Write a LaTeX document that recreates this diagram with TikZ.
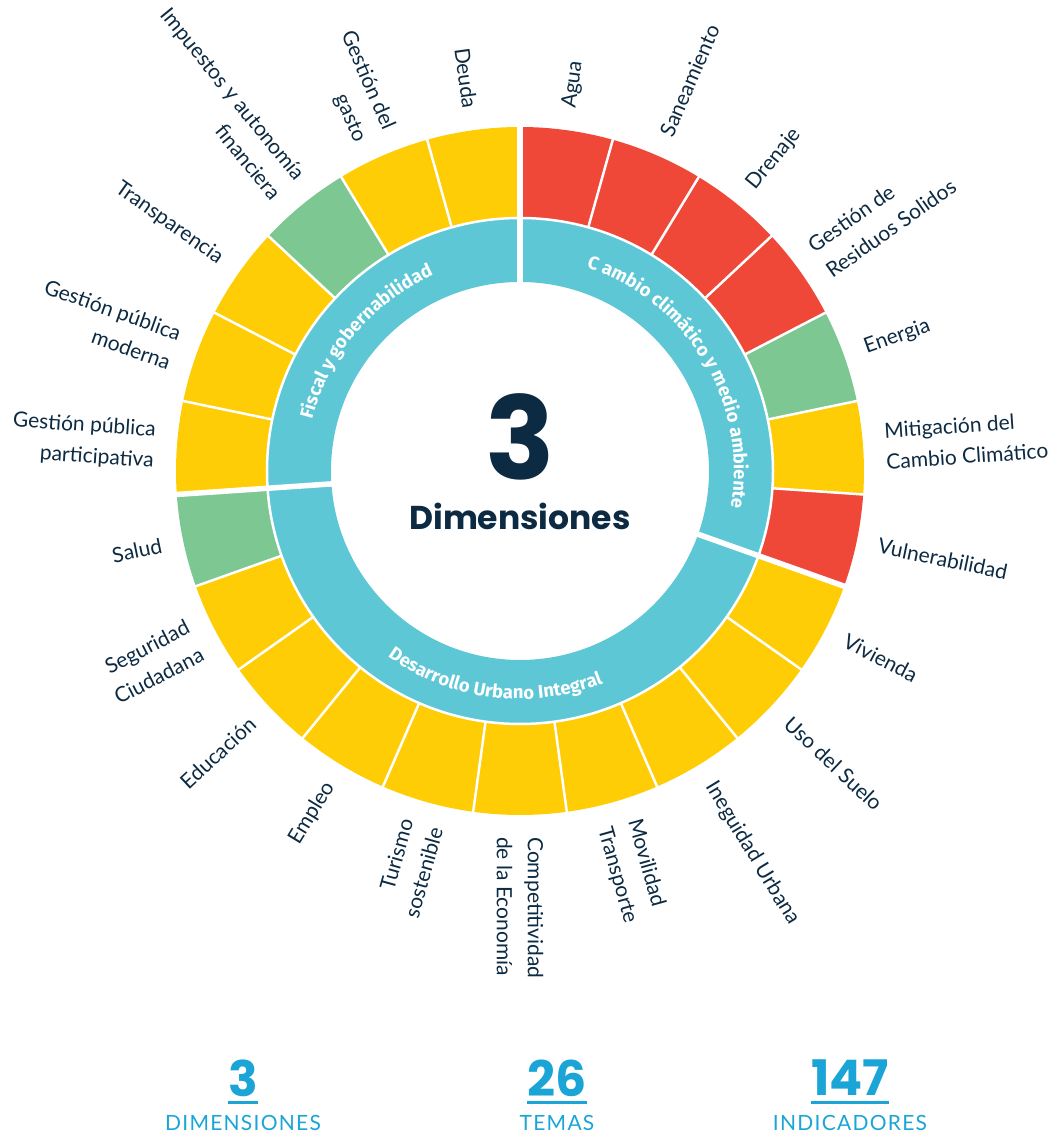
\documentclass[tikz,border=0pt]{standalone}
\usepackage{fontspec}
\usetikzlibrary{decorations.text}
\newfontfamily\latofont{Lato}
\newfontfamily\capsfont{Lato}[LetterSpace=6]
\newfontfamily\popfont{Poppins}
\newfontfamily\firafont{Fira Sans}
\definecolor{rojo}{HTML}{F04838}
\definecolor{amarillo}{HTML}{FFCD05}
\definecolor{verde}{HTML}{7DC792}
\definecolor{celeste}{HTML}{5EC7D6}
\definecolor{marino}{HTML}{0C2A42}
\definecolor{azul}{HTML}{1AA5D6}

\begin{document}
\begin{tikzpicture}[x=1pt, y=1pt,
  tema/.style={text=marino, font=\latofont\fontsize{21}{31}\selectfont, inner sep=0pt},
  der/.style={tema, anchor=west, align=left},
  izq/.style={tema, anchor=east, align=right},
  anillo/.style={decorate, decoration={text along path, text align=center,
    text={|\color{white}\firafont\bfseries\fontsize{18.5}{18.5}\selectfont|#1}}},
  cifra/.style={text=azul, font=\popfont\bfseries\fontsize{49}{49}\selectfont, inner sep=0pt},
  rotulo/.style={text=azul, font=\capsfont\fontsize{21}{21}\selectfont, inner sep=0pt, anchor=base}]
\useasboundingbox (-520,-663) rectangle (537,471);

\fill[celeste, even odd rule] (0,0) circle (253) (0,0) circle (189);
\foreach \c [count=\i from 0, evaluate=\i as \a using 90-\i*360/23, evaluate=\i as \b using 90-(\i+1)*360/23] in {rojo,rojo,rojo,rojo,verde,amarillo,rojo,%
amarillo,amarillo,amarillo,amarillo,amarillo,amarillo,amarillo,amarillo,amarillo,verde,%
amarillo,amarillo,amarillo,verde,amarillo,amarillo}
  \fill[\c] (\a:253) arc[start angle=\a, end angle=\b, radius=253] -- (\b:344) arc[start angle=\b, end angle=\a, radius=344] -- cycle;
\foreach \i in {0,...,22}
  \draw[white, line width=2.5] ({90-\i*360/23}:253) -- ({90-\i*360/23}:347);
\draw[white, line width=2.5] (0,0) circle (253);
\foreach \a in {90,-19.565,-176.087}
  \draw[white, line width=5.5] (\a:185) -- (\a:350);

\path[anillo={Fiscal y gobernabilidad}] (183:214) arc[start angle=183, end angle=97, radius=214];
\path[anillo={C ambio climático y medio ambiente}] (88:214) arc[start angle=88, end angle=-26, radius=214];
\path[anillo={Desarrollo Urbano Integral}] (-170:228) arc[start angle=-170, end angle=-24, radius=228];

\node[text=marino, font=\popfont\bfseries\fontsize{115}{115}\selectfont, inner sep=0pt] (tres) at (0,34) {3};
\node[text=marino, font=\popfont\bfseries\fontsize{33}{33}\selectfont, inner sep=0pt, anchor=base] (dims) at (0,-59) {Dimensiones};

\node[der, rotate=82.174] (t0) at (82.174:366) {Agua};
\node[der, rotate=66.522] (t1) at (66.522:366) {Saneamiento};
\node[der, rotate=50.870] (t2) at (50.870:366) {Drenaje};
\node[der, rotate=35.217] (t3) at (35.217:366) {Gestión de\\Residuos Solidos};
\node[der, rotate=19.565] (t4) at (19.565:366) {Energia};
\node[der, rotate=3.913] (t5) at (3.913:366) {Mitigación del\\Cambio Climático};
\node[der, rotate=-11.739] (t6) at (-11.739:366) {Vulnerabilidad};
\node[der, rotate=-27.391] (t7) at (-27.391:366) {Vivienda};
\node[der, rotate=-43.043] (t8) at (-43.043:366) {Uso del Suelo};
\node[der, rotate=-58.696] (t9) at (-58.696:366) {Ineguidad Urbana};
\node[der, rotate=-74.348] (t10) at (-74.348:366) {Movilidad\\Transporte};
\node[der, rotate=-90] (t11) at (-90:366) {Competitividad\\de la Economía};
\node[izq, rotate=74.348] (t12) at (-105.652:366) {Turismo\\sostenible};
\node[izq, rotate=58.696] (t13) at (-121.304:366) {Empleo};
\node[izq, rotate=43.043] (t14) at (-136.957:366) {Educación};
\node[izq, rotate=27.391] (t15) at (-152.609:366) {Seguridad\\Ciudadana};
\node[izq, rotate=11.739] (t16) at (-168.261:366) {Salud};
\node[izq, rotate=-3.913] (t17) at (176.087:366) {Gestión pública\\participativa};
\node[izq, rotate=-19.565] (t18) at (160.435:366) {Gestión pública\\moderna};
\node[izq, rotate=-35.217] (t19) at (144.783:366) {Transparencia};
\node[izq, rotate=-50.870] (t20) at (129.130:366) {Impuestos y autonomía\\financiera};
\node[izq, rotate=-66.522] (t21) at (113.478:366) {Gestión del\\gasto};
\node[izq, rotate=-82.174] (t22) at (97.826:366) {Deuda};

\node[cifra] (n1) at (-277,-607) {3};
\node[cifra] (n2) at (37,-607) {26};
\node[cifra] (n3) at (330,-607) {147};
\foreach \n in {n1,n2,n3}
  \draw[azul, line width=3] ([yshift=-6]\n.south west) -- ([yshift=-6]\n.south east);
\node[rotulo] (r1) at (-277,-659) {DIMENSIONES};
\node[rotulo] (r2) at (37,-659) {TEMAS};
\node[rotulo] (r3) at (330,-659) {INDICADORES};
\end{tikzpicture}
\end{document}
